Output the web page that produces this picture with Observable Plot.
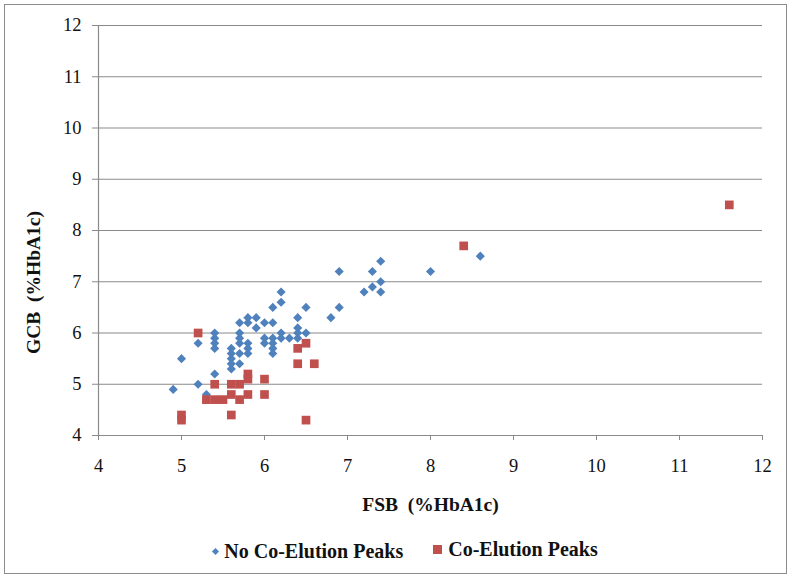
<!DOCTYPE html>
<html>
<head>
<meta charset="utf-8">
<script src="https://cdn.jsdelivr.net/npm/d3@7"></script>
<script src="https://cdn.jsdelivr.net/npm/@observablehq/plot@0.6"></script>
<style>
  html, body { margin: 0; padding: 0; background: #fff; }
  #wrap { position: relative; width: 795px; height: 579px; overflow: hidden; }
  #frame { position: absolute; left: 4px; top: 4px; width: 783px; height: 570px; border: 1.5px solid #8c8c8c; box-sizing: border-box; }
  #chart { position: absolute; left: 0; top: 0; }
  #legend { position: absolute; left: 8px; width: 795px; top: 536px; text-align: center; white-space: nowrap;
    font-family: "Liberation Serif", "Times New Roman", serif; font-weight: bold; font-size: 20px; color: #111; }
  .item { display: inline-flex; align-items: center; margin: 0 15px; }
  .sw { display: inline-block; margin-right: 6px; }
</style>
</head>
<body>
<div id="wrap">
  <div id="frame"></div>
  <div id="chart"></div>
  <div id="legend"></div>
</div>
<script>
// No Co-Elution Peaks (FSB, GCB)
const noCoFSB = [4.9,5.0,5.2,5.2,5.3,5.4,5.4,5.4,5.4,5.4,5.6,5.6,5.6,5.6,5.6,5.7,5.7,5.7,5.7,5.7,5.7,5.8,5.8,5.8,5.8,5.8,5.9,5.9,6.0,6.0,6.0,6.1,6.1,6.1,6.1,6.1,6.1,6.2,6.2,6.2,6.2,6.3,6.4,6.4,6.4,6.4,6.5,6.5,6.8,6.9,6.9,7.2,7.3,7.3,7.4,7.4,7.4,8.0,8.6];
const noCoGCB = [4.9,5.5,5.0,5.8,4.8,5.2,5.7,5.8,5.9,6.0,5.3,5.4,5.5,5.6,5.7,5.4,5.6,5.8,5.9,6.0,6.2,5.6,5.7,5.8,6.2,6.3,6.1,6.3,5.8,5.9,6.2,5.6,5.7,5.8,5.9,6.2,6.5,5.9,6.0,6.6,6.8,5.9,5.9,6.0,6.1,6.3,6.0,6.5,6.3,6.5,7.2,6.8,6.9,7.2,6.8,7.0,7.4,7.2,7.5];
// Co-Elution Peaks (FSB, GCB)
const coFSB = [5.0,5.0,5.2,5.3,5.4,5.4,5.5,5.6,5.6,5.6,5.7,5.7,5.8,5.8,5.8,6.0,6.0,6.4,6.4,6.5,6.5,6.6,8.4,11.6];
const coGCB = [4.4,4.3,6.0,4.7,4.7,5.0,4.7,5.0,4.8,4.4,5.0,4.7,5.2,5.1,4.8,5.1,4.8,5.7,5.4,5.8,4.3,5.4,7.7,8.5];

const seriesNames = ["No Co-Elution Peaks", "Co-Elution Peaks"];
const seriesColors = ["#4F81BD", "#C0504D"];
const xTicks = [4,5,6,7,8,9,10,11,12];
const yTicks = [4,5,6,7,8,9,10,11,12];
const xLabel = "FSB  (%HbA1c)";
const yLabel = "GCB  (%HbA1c)";

const noCo = noCoFSB.map((x, i) => ({x, y: noCoGCB[i]}));
const co = coFSB.map((x, i) => ({x, y: coGCB[i]}));

const serif = "'Liberation Serif', 'Times New Roman', serif";

const chart = Plot.plot({
  width: 795,
  height: 530,
  marginLeft: 98,
  marginRight: 33,
  marginTop: 25,
  marginBottom: 95,
  style: { fontFamily: serif, fontSize: "18.5px", color: "#111", background: "transparent" },
  x: { domain: [4, 12], ticks: xTicks },
  y: { domain: [4, 12], ticks: yTicks },
  marks: [
    Plot.ruleY(yTicks.filter(d => d > 4), { stroke: "#8a8a8a", strokeWidth: 1.2 }),
    Plot.ruleX([4], { stroke: "#8a8a8a", strokeWidth: 1.2 }),
    Plot.ruleY([4], { stroke: "#8a8a8a", strokeWidth: 1.2 }),
    Plot.axisX({ ticks: xTicks, tickSize: 5, tickPadding: 18, stroke: "#8a8a8a", label: null, fontSize: 18.5 }),
    Plot.axisY({ ticks: yTicks, tickSize: 6, tickPadding: 11, stroke: "#8a8a8a", label: null, fontSize: 18.5 }),
    Plot.dot(noCo, { x: "x", y: "y", symbol: "diamond2", r: 4.1, fill: seriesColors[0], stroke: "none" }),
    Plot.dot(co, { x: "x", y: "y", symbol: "square", r: 4.9, fill: seriesColors[1], stroke: "none" }),
    Plot.text([xLabel], { frameAnchor: "bottom", dy: 75, fontWeight: "bold", fontSize: 19.5 }),
    Plot.text([yLabel], { frameAnchor: "left", textAnchor: "middle", dx: -65, dy: 52, rotate: -90, fontWeight: "bold", fontSize: 19.5 })
  ]
});
document.getElementById("chart").appendChild(chart);

const legend = document.getElementById("legend");
seriesNames.forEach((name, i) => {
  const item = document.createElement("span");
  item.className = "item";
  const sw = document.createElement("span");
  sw.className = "sw";
  if (i === 0) {
    sw.style.width = "5px"; sw.style.height = "5px"; sw.style.background = seriesColors[0];
    sw.style.transform = "rotate(45deg)";
  } else {
    sw.style.width = "9px"; sw.style.height = "9px"; sw.style.background = seriesColors[1];
  }
  item.appendChild(sw);
  item.appendChild(document.createTextNode(name));
  legend.appendChild(item);
});
</script>
</body>
</html>
